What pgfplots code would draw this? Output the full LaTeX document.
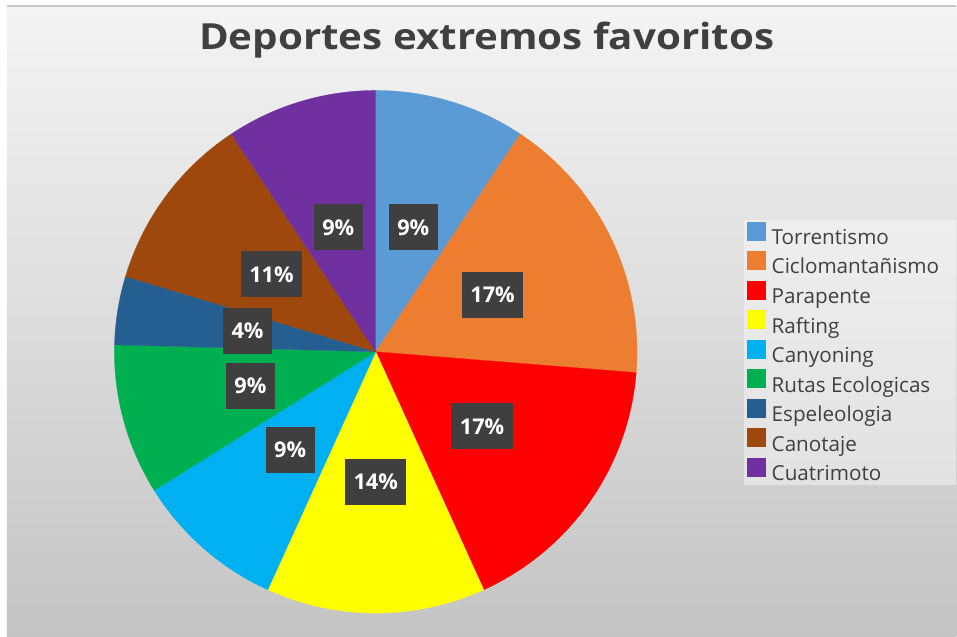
\documentclass[border=0pt]{standalone}
\usepackage{pgfplots}
\pgfplotsset{compat=1.18}
\usepackage{fontspec}
\setmainfont{Open Sans}
\newfontfamily\titlefont[FakeStretch=1.12]{Open Sans}
\definecolor{c1}{HTML}{5B9BD5}
\definecolor{c2}{HTML}{ED7D31}
\definecolor{c3}{HTML}{FF0000}
\definecolor{c4}{HTML}{FFFF00}
\definecolor{c5}{HTML}{00B0F0}
\definecolor{c6}{HTML}{00B050}
\definecolor{c7}{HTML}{255E91}
\definecolor{c8}{HTML}{9E480E}
\definecolor{c9}{HTML}{7030A0}
\definecolor{txt}{HTML}{404040}
\definecolor{lbl}{HTML}{3F3F3F}
\definecolor{bgtop}{HTML}{F4F4F4}
\definecolor{bgbot}{HTML}{C4C4C4}
% counts of answers per sport
\def\slices{11/Torrentismo/c1,20/Ciclomantañismo/c2,20/Parapente/c3,16/Rafting/c4,11/Canyoning/c5,11/Rutas Ecologicas/c6,5/Espeleologia/c7,13/Canotaje/c8,11/Cuatrimoto/c9}
\def\cx{376}\def\cy{352}\def\R{261.5}\def\Rl{130}
\begin{document}
\begin{tikzpicture}
\gdef\N{0}
\foreach \v/\name/\col in \slices {\pgfmathsetmacro\t{\N+\v}\xdef\N{\t}}
\begin{axis}[
  x=0.75pt, y=0.75pt, xmin=0, xmax=957, ymin=0, ymax=637,
  y dir=reverse, hide axis, clip=false,
  legend cell align=left,
  legend style={at={(axis cs:747,221.5)}, anchor=north west, draw=none, fill=none,
    inner sep=0pt, font=\fontsize{15.5}{18}\selectfont, text=txt,
    row sep=1pt, column sep=2.25pt,
    nodes={inner xsep=2.25pt, inner ysep=0pt, text height=13pt, text depth=4pt}},
  legend image code/.code={\fill[#1, draw=none] (0pt,-1.6pt) rectangle (14.25pt,12.65pt);},
]
\fill[white] (axis cs:0,0) rectangle (axis cs:957,637);
\shade[top color=bgtop, bottom color=bgbot] (axis cs:7,6) rectangle (axis cs:957,637);
\draw[gray!45, line width=1pt] (axis cs:7,6) -- (axis cs:957,6);
\fill[white, opacity=0.4] (axis cs:745,220) rectangle (axis cs:957,485);
\node[font=\titlefont\fontsize{27}{32}\selectfont\bfseries, text=txt] at (axis cs:487,40) {Deportes extremos favoritos};
\gdef\cum{0}
\foreach \v/\name/\col in \slices {
  \pgfmathsetmacro\a{\cum/\N*360}
  \pgfmathsetmacro\b{(\cum+\v)/\N*360}
  \edef\tmp{\noexpand\addplot[fill=\col, draw=\col, line width=0.2pt, domain=\a:\b, samples=60]
    ({\cx+\R*sin(x)},{\cy-\R*cos(x)}) -- (axis cs:\cx,\cy) -- cycle;
    \noexpand\addlegendentry{\name}}
  \tmp
  \pgfmathsetmacro\t{\cum+\v}\xdef\cum{\t}
}
\gdef\cum{0}
\foreach \v/\name/\col in \slices {
  \pgfmathsetmacro\m{(\cum+\v/2)/\N*360}
  \pgfmathsetmacro\lx{\cx+\Rl*sin(\m)}
  \pgfmathsetmacro\ly{\cy-\Rl*cos(\m)}
  \pgfmathtruncatemacro\p{round(100*\v/\N)}
  \edef\tmp{\noexpand\node[fill=lbl, text=white, font=\noexpand\fontsize{16.3}{20}\noexpand\selectfont\noexpand\bfseries,
    minimum height=34.5pt, inner xsep=6.4pt] at (axis cs:\lx,\ly) {\p\noexpand\%};}
  \tmp
  \pgfmathsetmacro\t{\cum+\v}\xdef\cum{\t}
}
\end{axis}
\end{tikzpicture}
\end{document}
